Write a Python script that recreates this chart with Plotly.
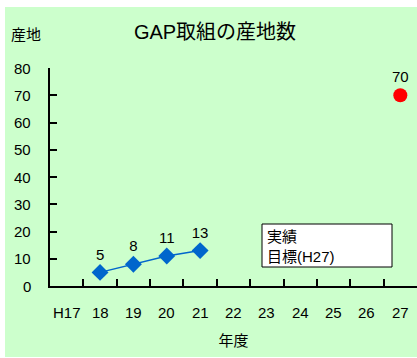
import plotly.graph_objects as go

# Fiscal-year categories and values
years = ["H17", "18", "19", "20", "21", "22", "23", "24", "25", "26", "27"]
actual_years = ["18", "19", "20", "21"]
actual_values = [5, 8, 11, 13]
target_years = ["27"]
target_values = [70]
y_ticks = [0, 10, 20, 30, 40, 50, 60, 70, 80]

FONT = "Liberation Sans, Arial, Noto Sans CJK JP, sans-serif"
GREEN = "#CCFFCC"

fig = go.Figure()

# Results (blue diamonds joined by a line)
fig.add_trace(go.Scatter(
    x=actual_years, y=actual_values, mode="lines+markers+text",
    text=[str(v) for v in actual_values], textposition="top center",
    textfont=dict(size=15, color="black", family=FONT),
    line=dict(color="#0066CC", width=1.5),
    marker=dict(symbol="diamond", size=13, color="#0066CC"),
    name="実績", showlegend=False, cliponaxis=False,
))

# Target for H27 (red circle)
fig.add_trace(go.Scatter(
    x=target_years, y=target_values, mode="markers+text",
    text=[str(v) for v in target_values], textposition="top center",
    textfont=dict(size=15, color="black", family=FONT),
    marker=dict(symbol="circle", size=14, color="#FF0000"),
    name="目標(H27)", showlegend=False, cliponaxis=False,
))

L, R, T, B = 50, 0, 68, 72
W, H = 417, 358
pw, ph = W - L - R, H - T - B


def px_x(p):
    return (p - L) / pw


def px_y(p):
    return (H - B - p) / ph


# category labels below the x axis, spaced away from the inward ticks
x_labels = [
    dict(text=c, xref="x", yref="paper", x=i, y=px_y(312),
         xanchor="center", yanchor="middle", showarrow=False,
         font=dict(size=15, family=FONT))
    for i, c in enumerate(years)
]
# value labels left of the y axis
y_labels = [
    dict(text=str(v), xref="paper", yref="y", x=px_x(33), y=v,
         xanchor="right", yanchor="middle", showarrow=False,
         font=dict(size=15, family=FONT))
    for v in y_ticks
]

fig.update_layout(
    width=W, height=H,
    margin=dict(l=L, r=R, t=T, b=B),
    paper_bgcolor=GREEN,
    plot_bgcolor=GREEN,
    font=dict(family=FONT, size=15, color="black"),
    title=dict(text="GAP取組の産地数", x=215 / W, xanchor="center",
               y=1 - 32 / H, yanchor="middle", xref="container", yref="container",
               font=dict(size=20, family=FONT, color="black")),
    xaxis=dict(
        type="category", categoryorder="array", categoryarray=years,
        range=[-0.5, len(years) - 0.5],
        tickson="boundaries", ticks="inside", ticklen=7, tickcolor="black",
        tickwidth=1.5, showticklabels=False,
        showline=True, linecolor="black", linewidth=1.5,
        showgrid=False, zeroline=False,
        title=dict(text="年度", standoff=49, font=dict(size=15, family=FONT)),
        fixedrange=True,
    ),
    yaxis=dict(
        range=[0, 80], tickmode="array", tickvals=y_ticks,
        ticks="inside", ticklen=7, tickcolor="black", tickwidth=1.5,
        showticklabels=False,
        showline=True, linecolor="black", linewidth=1.5,
        showgrid=False, zeroline=False,
        fixedrange=True,
    ),
    shapes=[
        # white page margin around the green chart area
        dict(type="rect", xref="paper", yref="paper", layer="above",
             x0=px_x(0), x1=px_x(5), y0=px_y(H), y1=px_y(0),
             fillcolor="white", line=dict(width=0)),
        dict(type="rect", xref="paper", yref="paper", layer="above",
             x0=px_x(0), x1=px_x(W), y0=px_y(7), y1=px_y(0),
             fillcolor="white", line=dict(width=0)),
        dict(type="rect", xref="paper", yref="paper", layer="above",
             x0=px_x(0), x1=px_x(W), y0=px_y(H), y1=px_y(357),
             fillcolor="white", line=dict(width=0)),
        # legend box
        dict(type="rect", xref="paper", yref="paper", layer="above",
             x0=px_x(262), x1=px_x(392), y0=px_y(267), y1=px_y(224),
             fillcolor="white", line=dict(color="black", width=1)),
    ],
    annotations=x_labels + y_labels + [
        dict(text="産地", xref="paper", yref="paper", x=px_x(9), y=px_y(35),
             xanchor="left", yanchor="middle", showarrow=False,
             font=dict(size=15, family=FONT)),
        dict(text="実績<br>目標(H27)", xref="paper", yref="paper",
             x=px_x(265), y=px_y(246), xanchor="left", yanchor="middle",
             align="left", showarrow=False, font=dict(size=15, family=FONT)),
    ],
)

fig.write_html("out.html")
